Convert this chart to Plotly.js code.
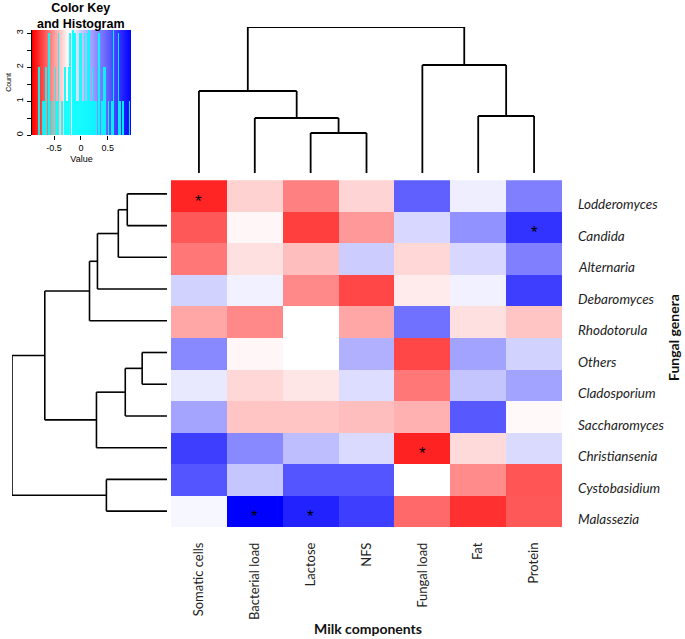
<!DOCTYPE html>
<html>
<head>
<meta charset="utf-8">
<script src="https://cdn.plot.ly/plotly-3.0.1.min.js"></script>
<style>html,body{margin:0;padding:0;background:#fff;}#chart{width:685px;height:639px;}</style>
</head>
<body>
<div id="chart"></div>
<script>
// Columns (milk components) in dendrogram order
const components = ['Somatic cells','Bacterial load','Lactose','NFS','Fungal load','Fat','Protein'];
// Rows (fungal genera) in dendrogram order
const genera = ['Lodderomyces','Candida','Alternaria','Debaromyces','Rhodotorula','Others','Cladosporium','Saccharomyces','Christiansenia','Cystobasidium','Malassezia'];

// Correlation values per genus (same order as components)
const lodderomyces   = [-0.77, -0.16, -0.45, -0.15,  0.56,  0.06,  0.45];
const candida        = [-0.59, -0.03, -0.68, -0.36,  0.14,  0.39,  0.72];
const alternaria     = [-0.48, -0.11, -0.23,  0.18, -0.14,  0.14,  0.45];
const debaromyces    = [ 0.16,  0.05, -0.42, -0.65, -0.07,  0.05,  0.68];
const rhodotorula    = [-0.31, -0.42,  0.00, -0.31,  0.50, -0.11, -0.21];
const others         = [ 0.42, -0.03,  0.00,  0.28, -0.65,  0.33,  0.16];
const cladosporium   = [ 0.08, -0.14, -0.09,  0.12, -0.48,  0.21,  0.33];
const saccharomyces  = [ 0.32, -0.21, -0.21, -0.23, -0.28,  0.59, -0.02];
const christiansenia = [ 0.68,  0.42,  0.23,  0.13, -0.78, -0.13,  0.13];
const cystobasidium  = [ 0.60,  0.20,  0.60,  0.60,  0.00, -0.41, -0.60];
const malassezia     = [ 0.03,  0.90,  0.78,  0.68, -0.53, -0.73, -0.59];

// Significant cells
const starGenera = ['Lodderomyces','Candida','Christiansenia','Malassezia','Malassezia'];
const starComponents = ['Somatic cells','Protein','Fungal load','Bacterial load','Lactose'];

// Dendrogram merge trees (leaf = index in the order above, h = merge height)
const colTree = {h:1.46, c:[{h:0.82, c:[0, {h:0.55, c:[1, {h:0.40, c:[2,3]}]}]}, {h:1.08, c:[4, {h:0.57, c:[5,6]}]}]};
const rowTree = {h:1.56, c:[
  {h:1.23, c:[
    {h:0.78, c:[{h:0.70, c:[{h:0.49, c:[{h:0.40, c:[0,1]}, 2]}, 3]}, 4]},
    {h:0.71, c:[{h:0.42, c:[{h:0.25, c:[5,6]}, 7]}, 8]}
  ]},
  {h:0.61, c:[9,10]}
]};

const zRows = [lodderomyces, candida, alternaria, debaromyces, rhodotorula, others, cladosporium, saccharomyces, christiansenia, cystobasidium, malassezia];

function walk(node, segs){
  if (typeof node === 'number') return {p: node, h: 0};
  const a = walk(node.c[0], segs), b = walk(node.c[1], segs);
  segs.push([a.p, a.h, a.p, node.h], [b.p, b.h, b.p, node.h], [a.p, node.h, b.p, node.h]);
  return {p: (a.p + b.p) / 2, h: node.h};
}
function segXY(tree, swap){
  const segs = []; walk(tree, segs);
  const X = [], Y = [];
  segs.forEach(s => {
    if (!swap){ X.push(s[0], s[2], null); Y.push(s[1], s[3], null); }
    else { X.push(s[1], s[3], null); Y.push(s[0], s[2], null); }
  });
  return {X, Y};
}
const colD = segXY(colTree, false);
const rowD = segXY(rowTree, true);

const rwb = [[0,'#FF0000'],[0.5,'#FFFFFF'],[1,'#0000FF']];
const allVals = [].concat(...zRows);

const W = 685, H = 639;
const hmX = [171/W, 562/W], hmY = [1-527/H, 1-178/H];

const traces = [
  {type:'heatmap', x: components, y: genera, z: zRows, colorscale: rwb, zmin:-0.9, zmax:0.9,
   showscale:false, xaxis:'x', yaxis:'y', hoverinfo:'skip'},
  {type:'scatter', mode:'lines', x: colD.X, y: colD.Y, line:{color:'#000', width:1.8}, xaxis:'x2', yaxis:'y2', showlegend:false, hoverinfo:'skip'},
  {type:'scatter', mode:'lines', x: rowD.X, y: rowD.Y, line:{color:'#000', width:1.6}, xaxis:'x3', yaxis:'y3', showlegend:false, hoverinfo:'skip'},
  {type:'heatmap', x:[-0.91,-0.24,0.93], y:[0,3.09], z:[[0,0.5,1],[0,0.5,1]], colorscale: rwb, zsmooth:'best',
   showscale:false, xaxis:'x4', yaxis:'y4', hoverinfo:'skip'},
  {type:'histogram', x: allVals, xbins:{start:-0.91, end:0.93, size:0.03}, marker:{color:'rgba(0,255,255,0.9)', line:{width:0}},
   xaxis:'x4', yaxis:'y4', showlegend:false, hoverinfo:'skip'}
];

const annotations = genera.map(g => ({
  xref:'paper', yref:'y', x: 576/W, y: g, yshift:-8, xanchor:'left', yanchor:'middle', showarrow:false,
  text: '<i>'+g+'</i>', font:{family:'Lato', size:13.5, color:'#222'}
}));
starGenera.forEach((g, i) => annotations.push({
  xref:'x', yref:'y', x: starComponents[i], y: g, yshift:-5, xanchor:'center', yanchor:'middle', showarrow:false,
  text:'*', font:{family:'Liberation Sans', size:17, color:'#000'}
}));
annotations.push(
  {xref:'paper', yref:'paper', x: 368/W, y: 1-628/H, xanchor:'center', yanchor:'middle', showarrow:false,
   text:'<b>Milk components</b>', font:{family:'Lato', size:14, color:'#111'}},
  {xref:'paper', yref:'paper', x: 673/W, y: 1-338/H, xanchor:'center', yanchor:'middle', textangle:-90, showarrow:false,
   text:'<b>Fungal genera</b>', font:{family:'Lato', size:14, color:'#111'}},
  {xref:'paper', yref:'paper', x: 81/W, y: 1-16/H, xanchor:'center', yanchor:'middle', showarrow:false,
   text:'<b>Color Key<br>and Histogram</b>', font:{family:'Liberation Sans', size:12.5, color:'#000'}}
);

const layout = {
  width: W, height: H, margin:{l:0, r:0, t:0, b:0}, paper_bgcolor:'#fff', plot_bgcolor:'rgba(0,0,0,0)',
  showlegend:false, bargap:0,
  xaxis:{domain: hmX, anchor:'y', type:'category', tickangle:-90, ticks:'', ticklabelstandoff:12,
         tickfont:{family:'Lato', size:13, color:'#222'}, showgrid:false, zeroline:false, showline:false, fixedrange:true},
  yaxis:{domain: hmY, anchor:'x', type:'category', autorange:'reversed', showticklabels:false, ticks:'', showgrid:false, zeroline:false},
  xaxis2:{domain: hmX, anchor:'y2', range:[-0.5,6.5], visible:false},
  yaxis2:{domain:[1-173/H, 1-27/H], anchor:'x2', range:[0,1.46], visible:false},
  xaxis3:{domain:[12/W, 167/W], anchor:'y3', range:[1.56,0], visible:false},
  yaxis3:{domain: hmY, anchor:'x3', range:[10.5,-0.5], visible:false},
  xaxis4:{domain:[32/W, 131/W], anchor:'y4', range:[-0.91,0.93], tickvals:[-0.5,0,0.5], ticktext:['-0.5','0','0.5'],
          ticks:'outside', ticklen:4, tickcolor:'#000', showgrid:false, zeroline:false, showline:false,
          tickfont:{family:'Liberation Sans', size:9, color:'#000'},
          title:{text:'Value', font:{family:'Liberation Sans', size:9, color:'#000'}, standoff:3}},
  yaxis4:{domain:[1-135/H, 1-30/H], anchor:'x4', range:[0,3.09], tickvals:[0,1,2,3], tickangle:-90,
          ticks:'outside', ticklen:4, tickcolor:'#000', showline:true, linecolor:'#000', linewidth:1,
          minor:{dtick:0.5, ticks:'outside', ticklen:4, tickcolor:'#000'},
          showgrid:false, zeroline:false, tickfont:{family:'Liberation Sans', size:9, color:'#000'},
          title:{text:'Count', font:{family:'Liberation Sans', size:7, color:'#000'}, standoff:2}},
  annotations: annotations
};

Plotly.newPlot('chart', traces, layout, {staticPlot:true, displayModeBar:false});
</script>
</body>
</html>
